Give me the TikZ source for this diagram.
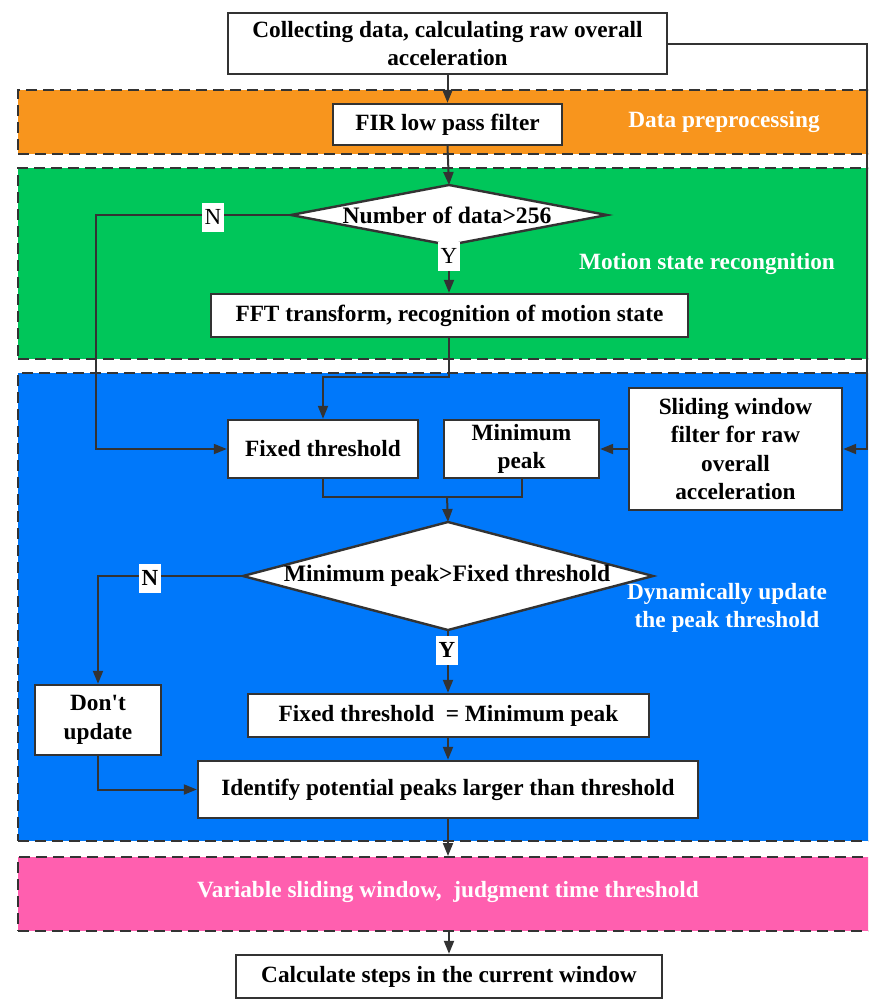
\documentclass[tikz,border=0pt]{standalone}
\usepackage{fontspec}
\setmainfont{Liberation Serif}[Ligatures=TeXOff]
\usetikzlibrary{arrows.meta}
\definecolor{lc}{HTML}{333333}
\definecolor{orangeb}{HTML}{F8951D}
\definecolor{greenb}{HTML}{00C65A}
\definecolor{blueb}{HTML}{0078FA}
\definecolor{pinkb}{HTML}{FF5FAF}
\begin{document}
\begin{tikzpicture}[x=1pt,y=-1pt,
  band/.style={draw=lc, line width=2.4pt, dash pattern=on 11pt off 6pt, anchor=north west, minimum width=870pt, inner sep=0pt},
  box/.style={draw=lc, line width=2.4pt, fill=white, inner sep=0pt, align=center,
    font=\bfseries\fontsize{23.3}{28.5}\selectfont},
  dtext/.style={inner sep=0pt, font=\bfseries\fontsize{23.6}{28.5}\selectfont},
  dia/.style={draw=lc, line width=2.4pt, fill=white},
  btext/.style={text=white, align=center, font=\bfseries\fontsize{23.3}{28.5}\selectfont},
  lab/.style={fill=white, inner xsep=2.5pt, inner ysep=0pt, minimum height=29pt, font=\fontsize{23}{24}\selectfont},
  conn/.style={draw=lc, line width=2pt},
  arr/.style={conn, -{Triangle[length=13pt,width=10pt]}}]
\useasboundingbox (0,0) rectangle (868,999);
\clip (0,0) rectangle (868,999);
\fill[white] (0,0) rectangle (868,999);
% bands
\node[band, fill=orangeb, minimum height=64pt] (b1) at (17,89) {};
\node[band, fill=greenb, minimum height=191pt] (b2) at (17,167) {};
\node[band, fill=blueb, minimum height=468pt] (b3) at (17,372) {};
\node[band, fill=pinkb, minimum height=74pt] (b4) at (17,856) {};
\node[btext] (t1) at (724,122) {Data preprocessing};
\node[btext] (t2) at (707,264) {Motion state recongnition};
\node[btext] (t3) at (727,608) {Dynamically update\\the peak threshold};
\node[btext] (t4) at (448,892) {Variable sliding window,\ \ judgment time threshold};
% boxes
\node[box, minimum width=439pt, minimum height=61pt] (top) at (447.5,43.5) {Collecting data, calculating raw overall\\acceleration};
\node[box, minimum width=229pt, minimum height=41pt] (fir) at (447.5,124.5) {FIR low pass filter};
\node[box, minimum width=477pt, minimum height=43pt] (fft) at (449.5,315.5) {FFT transform, recognition of motion state};
\node[box, minimum width=190pt, minimum height=58pt] (ft) at (323,449) {Fixed threshold};
\node[box, minimum width=155pt, minimum height=58pt] (mp) at (521.5,449) {Minimum\\peak};
\node[box, minimum width=213pt, minimum height=122pt] (sw) at (735.5,449) {Sliding window\\filter for raw\\overall\\acceleration};
\node[box, minimum width=126pt, minimum height=70pt] (dont) at (98,720) {Don't\\update};
\node[box, minimum width=401pt, minimum height=43pt] (eq) at (448.5,715.5) {Fixed threshold\ \ = Minimum peak};
\node[box, minimum width=500pt, minimum height=57pt] (idf) at (448,789.5) {Identify potential peaks larger than threshold};
\node[box, minimum width=426pt, minimum height=43pt] (calc) at (449,976.5) {Calculate steps in the current window};
% diamonds
\coordinate (d1t) at (449,185); \coordinate (d1b) at (449,245);
\coordinate (d1l) at (291,215); \coordinate (d1r) at (607,215);
\draw[dia] (d1t) -- (d1r) -- (d1b) -- (d1l) -- cycle;
\node[dtext] (d1) at (447,215) {Number of data>256};
\coordinate (d2t) at (448,522); \coordinate (d2b) at (448,630);
\coordinate (d2l) at (243,576); \coordinate (d2r) at (653,576);
\draw[dia] (d2t) -- (d2r) -- (d2b) -- (d2l) -- cycle;
\node[dtext] (d2) at (447,576) {Minimum peak>Fixed threshold};
% helper coordinates
\coordinate (nx) at (96,0);
\coordinate (rx) at (866.5,0);
\coordinate (j1) at (449,377);
\coordinate (j2) at (447,497);
% connectors
\draw[arr] (top.south -| fir.north) -- (fir.north);
\draw[arr] (fir.south) -- (d1t);
\draw[arr] (d1l) -| (nx |- ft.west) -- (ft.west);
\node[lab] (n1) at (213,217) {N};
\draw[arr] (d1b) -- (fft.north -| d1b);
\node[lab] (y1) at (449,256) {Y};
\draw[arr] (fft.south -| j1) -- (j1) -| (ft.north);
\draw[arr] (top.east) -- (rx |- top.east) -- (rx |- sw.east) -- (sw.east);
\draw[arr] (sw.west) -- (mp.east);
\draw[conn] (ft.south) |- (j2) -| (mp.south);
\draw[arr] (j2) -- (d2t);
\draw[arr] (d2l) -| (dont.north);
\node[lab, font=\bfseries\fontsize{23}{24}\selectfont] (n2) at (150,578) {N};
\draw[arr] (d2b) -- (eq.north -| d2b);
\node[lab, font=\bfseries\fontsize{23}{24}\selectfont] (y2) at (447,650) {Y};
\draw[arr] (eq.south -| idf.north) -- (idf.north);
\draw[arr] (dont.south) |- (idf.west);
\draw[arr] (idf.south) -- (idf.south |- b4.north);
\draw[arr] (calc.north |- b4.south) -- (calc.north);
\end{tikzpicture}
\end{document}
